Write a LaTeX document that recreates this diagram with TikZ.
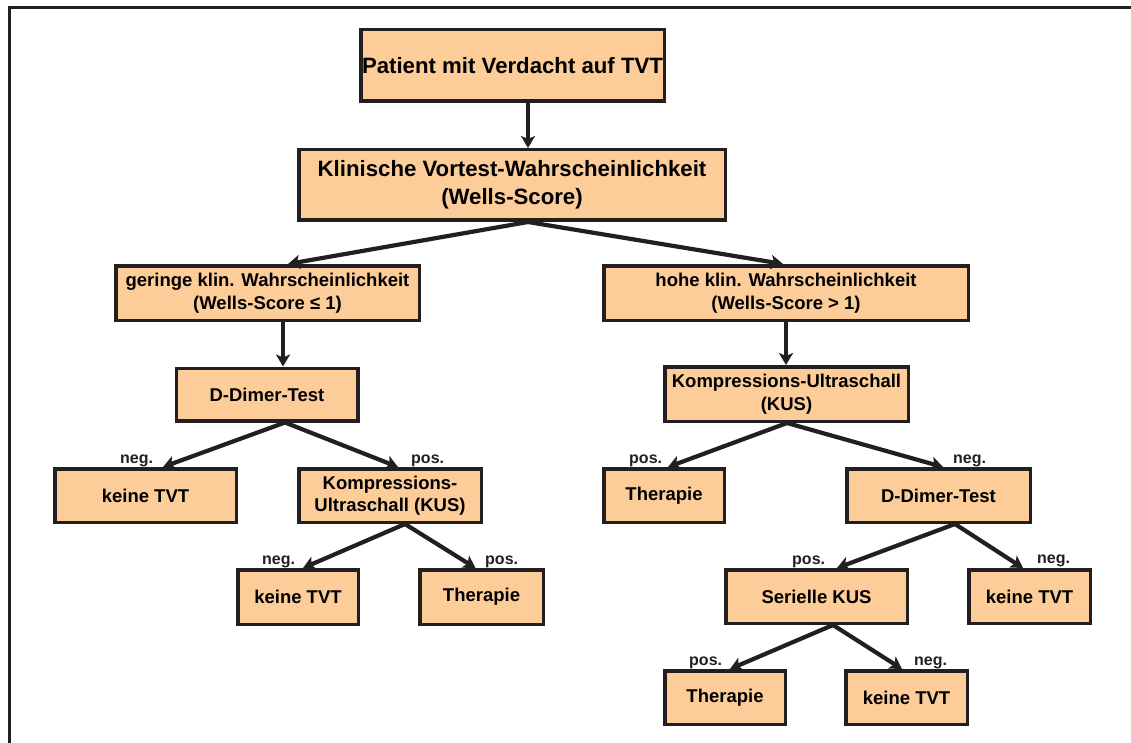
\documentclass[tikz,border=0pt]{standalone}
\usepackage{fontspec}
\setmainfont{Liberation Sans}
\usetikzlibrary{arrows.meta,calc}
\definecolor{peach}{RGB}{252,204,153}
\definecolor{ink}{RGB}{35,31,32}
\begin{document}
\begin{tikzpicture}[x=1pt,y=-1pt,
  box/.style={draw=ink, fill=peach, line width=3.5pt, inner sep=0pt, align=center,
    font=\bfseries\fontsize{18.5}{22.5}\selectfont},
  bigbox/.style={box, font=\bfseries\fontsize{22.2}{28}\selectfont},
  conn/.style={draw=ink, line width=4.2pt, -{Stealth[length=12pt,width=14pt,inset=3pt]}},
  lbl/.style={anchor=base west, inner sep=0pt, font=\bfseries\fontsize{16}{19}\selectfont, text=ink}
]
\useasboundingbox (0,0) rectangle (1131,743);
\fill[white] (0,0) rectangle (1131,743);
\draw[ink, line width=3pt] (9,743) -- (9,8) -- (1131,8);

% nodes
\node[bigbox, minimum width=303.5pt, minimum height=71.5pt] (P) at (512.5,65.5) {Patient mit Verdacht auf TVT};
\node[bigbox, minimum width=426.5pt, minimum height=70.5pt] (K) at (512,185) {Klinische Vortest-Wahrscheinlichkeit\\(Wells-Score)};
\node[box, minimum width=303.5pt, minimum height=54.5pt] (G) at (267.5,293) {geringe klin. Wahrscheinlichkeit\\(Wells-Score ≤ 1)};
\node[box, minimum width=364.5pt, minimum height=54.5pt] (H) at (786,293) {hohe klin. Wahrscheinlichkeit\\(Wells-Score > 1)};
\node[box, minimum width=181.5pt, minimum height=52.5pt] (DL) at (267,394.5) {D-Dimer-Test};
\node[box, minimum width=243.5pt, minimum height=54.5pt] (KR) at (786.5,394) {Kompressions-Ultraschall\\(KUS)};
\node[box, minimum width=181.5pt, minimum height=53.5pt] (NL) at (145.5,495.5) {keine TVT};
\node[box, minimum width=182.5pt, minimum height=53.5pt] (KL) at (390,495.5) {Kompressions-\\Ultraschall (KUS)};
\node[box, minimum width=120.5pt, minimum height=54.5pt] (N2) at (298,597) {keine TVT};
\node[box, minimum width=123.5pt, minimum height=54.5pt] (T2) at (481.5,597) {Therapie};
\node[box, minimum width=120.5pt, minimum height=53.5pt] (TR) at (664,495.5) {Therapie};
\node[box, minimum width=183.5pt, minimum height=53.5pt] (DR) at (938.5,495.5) {D-Dimer-Test};
\node[box, minimum width=181.5pt, minimum height=53.5pt] (S) at (816.5,596.5) {Serielle KUS};
\node[box, minimum width=121.5pt, minimum height=53.5pt] (NR) at (1029.5,596.5) {keine TVT};
\node[box, minimum width=120.5pt, minimum height=53.5pt] (TB) at (725,697.5) {Therapie};
\node[box, minimum width=121.5pt, minimum height=53.5pt] (NB) at (906.5,697.5) {keine TVT};

% connectors
\draw[conn] ($(P.south)+(15.5,0)$) -- ($(K.north)+(16,0)$);
\draw[conn] ($(K.south)+(16,0)$) -- ($(G.north)+(20.5,0)$);
\draw[conn] ($(K.south)+(16,0)$) -- ($(H.north)+(-3,0)$);
\draw[conn] ($(G.south)+(15.5,0)$) -- ($(DL.north)+(16,0)$);
\draw[conn] (H.south) -- ($(KR.north)+(-0.5,0)$);
\draw[conn] ($(DL.south)+(18,0)$) -- ($(NL.north)+(17.5,0)$);
\draw[conn] ($(DL.south)+(18,0)$) -- ($(KL.north)+(8,0)$);
\draw[conn] ($(KL.south)+(15,0)$) -- ($(N2.north)+(5,0)$);
\draw[conn] ($(KL.south)+(15,0)$) -- ($(T2.north)+(-6,0)$);
\draw[conn] ($(KR.south)+(0.5,0)$) -- ($(TR.north)+(4,0)$);
\draw[conn] ($(KR.south)+(0.5,0)$) -- ($(DR.north)+(4.5,0)$);
\draw[conn] ($(DR.south)+(16.5,0)$) -- ($(S.north)+(20.5,0)$);
\draw[conn] ($(DR.south)+(16.5,0)$) -- ($(NR.north)+(-6.5,0)$);
\draw[conn] ($(S.south)+(16.5,0)$) -- ($(TB.north)+(5,0)$);
\draw[conn] ($(S.south)+(16.5,0)$) -- ($(NB.north)+(-4.5,0)$);

% labels
\node[lbl] (l1) at (120,463) {neg.};
\node[lbl] (l2) at (411,463) {pos.};
\node[lbl] (l3) at (262,564) {neg.};
\node[lbl] (l4) at (485,564) {pos.};
\node[lbl] (l5) at (629,463) {pos.};
\node[lbl] (l6) at (953,463) {neg.};
\node[lbl] (l7) at (792,564) {pos.};
\node[lbl] (l8) at (1037,563) {neg.};
\node[lbl] (l9) at (689,665) {pos.};
\node[lbl] (l10) at (914,665) {neg.};
\end{tikzpicture}
\end{document}
